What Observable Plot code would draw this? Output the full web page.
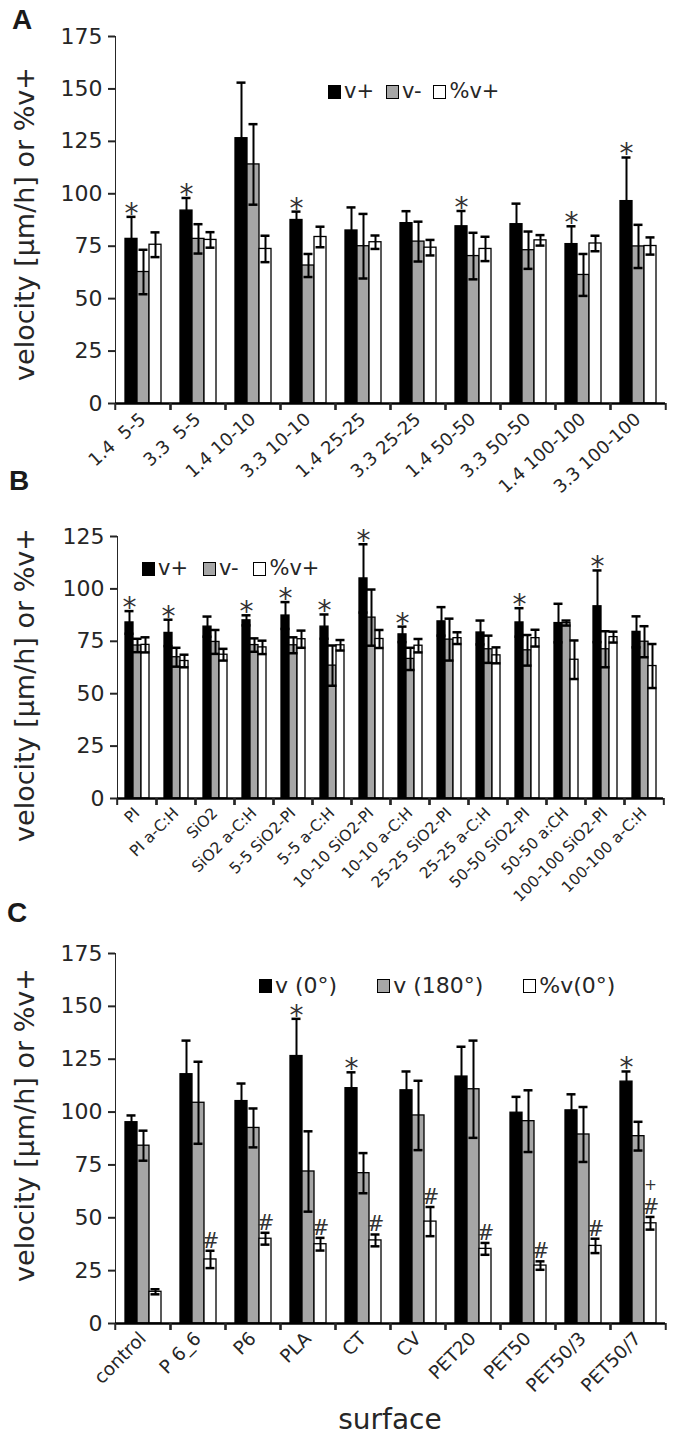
<!DOCTYPE html>
<html><head><meta charset="utf-8">
<script src="https://cdn.jsdelivr.net/npm/d3@7"></script>
<script src="https://cdn.jsdelivr.net/npm/@observablehq/plot@0.6"></script>
<style>
body{margin:0;background:#fff;}
#page{position:relative;width:675px;height:1437px;overflow:hidden;font-family:"DejaVu Sans",sans-serif;color:#262626;}
.panel{position:absolute;left:0;}
.letter{position:absolute;font-family:"Liberation Sans",Arial,sans-serif;font-weight:bold;font-size:28px;color:#1a1a1a;line-height:1;}
.ytitle{position:absolute;left:24px;transform:translate(-50%,-50%) rotate(-90deg);white-space:nowrap;font-size:27px;line-height:1;}
.xtitle{position:absolute;transform:translate(-50%,-50%);white-space:nowrap;font-size:28px;line-height:1;}
.legend{position:absolute;display:flex;align-items:center;line-height:1;white-space:nowrap;}
.sw{display:inline-block;width:13px;height:14px;border:1.5px solid #000;box-sizing:border-box;margin-right:3px;}
g[aria-label="y-axis tick"]{stroke-width:2px;}
</style></head><body><div id="page"></div><script>
// ---------- Panel A ----------
const seriesAB = ["v+", "v-", "%v+"];
const catsA = ["1.4\u00a0 5-5", "3.3\u00a0 5-5", "1.4 10-10", "3.3 10-10", "1.4 25-25", "3.3 25-25", "1.4 50-50", "3.3 50-50", "1.4 100-100", "3.3 100-100"];
const vPlusA     = [78.5, 92, 126.5, 87.5, 82.5, 86, 84.5, 85.5, 76, 96.5];
const vPlusErrA  = [10.5, 6, 26.5, 4, 11, 5.7, 7.3, 9.8, 8.5, 20.8];
const vMinusA    = [62.7, 78.5, 114, 65.8, 75, 77.2, 70.3, 73.1, 61.3, 74.9];
const vMinusErrA = [10.6, 7, 19.2, 5.5, 15.4, 9.5, 11.1, 8.9, 10, 10.3];
const pctA       = [75.7, 78, 73.7, 79.4, 76.9, 74.3, 73.7, 77.8, 76.3, 75.1];
const pctErrA    = [5.9, 3.7, 6.3, 4.9, 3.2, 3.7, 5.8, 2.5, 3.7, 4.1];
const starA      = [1, 1, 0, 1, 0, 0, 1, 0, 1, 1];
const ticksA     = [0, 25, 50, 75, 100, 125, 150, 175];

// ---------- Panel B ----------
const catsB = ["PI", "PI a-C:H", "SiO2", "SiO2 a-C:H", "5-5 SiO2-PI", "5-5 a-C:H", "10-10 SiO2-PI", "10-10 a-C:H", "25-25 SiO2-PI", "25-25 a-C:H", "50-50 SiO2-PI", "50-50 a:CH", "100-100 SiO2-PI", "100-100 a-C:H"];
const vPlusB     = [84, 79, 82, 85, 87.3, 82, 105, 78.3, 84.5, 79.2, 84, 83.7, 91.7, 79.5];
const vPlusErrB  = [5.4, 6.3, 4.8, 2.4, 6.4, 5.8, 16.3, 3.7, 6.8, 5.7, 6.8, 9.2, 17.1, 7.4];
const vMinusB    = [73, 67.4, 74.7, 73.2, 73.1, 63.4, 86.3, 66.6, 75.8, 71.2, 70.7, 83.7, 71.2, 74.8];
const vMinusErrB = [3.2, 4.5, 5.7, 3.2, 3.8, 9.6, 13.4, 5.3, 10, 6.5, 7.3, 1.2, 8.6, 7.4];
const pctB       = [73.3, 65.6, 68.6, 72.1, 76, 73.1, 76.1, 72.9, 76.5, 68.3, 76.5, 66.2, 77, 63.2];
const pctErrB    = [3.6, 3, 2.8, 3.2, 4.1, 2.5, 4.3, 3.2, 2.8, 3.8, 4, 9.2, 2.6, 10.5];
const starB      = [1, 1, 0, 1, 1, 1, 1, 1, 0, 0, 1, 0, 1, 0];
const ticksB     = [0, 25, 50, 75, 100, 125];

// ---------- Panel C ----------
const seriesC = ["v (0°)", "v (180°)", "%v(0°)"];
const catsC = ["control", "P 6_6", "P6", "PLA", "CT", "CV", "PET20", "PET50", "PET50/3", "PET50/7"];
const v0C      = [95.2, 117.9, 105.2, 126.5, 111.3, 110.3, 116.8, 99.7, 100.8, 114.4];
const v0ErrC   = [3.2, 15.9, 8.3, 17.6, 7.5, 8.9, 14.1, 7.5, 7.6, 4.8];
const v180C    = [84.1, 104.4, 92.5, 71.9, 71.1, 98.4, 110.8, 95.7, 89.4, 88.6];
const v180ErrC = [7.1, 19.4, 9.2, 19, 9.5, 16.4, 23, 14.6, 13, 6.8];
const pctC     = [15, 30.3, 40.1, 37.5, 39.3, 48.2, 35.3, 27.4, 36.7, 47.4];
const pctErrC  = [1.2, 4.1, 2.8, 3, 2.8, 6.9, 2.8, 2, 3.4, 3];
const starC    = [0, 0, 0, 1, 1, 0, 0, 0, 0, 1];
const hashC    = [0, 1, 1, 1, 1, 1, 1, 1, 1, 1];
const plusC    = [0, 0, 0, 0, 0, 0, 0, 0, 0, 1];
const ticksC   = [0, 25, 50, 75, 100, 125, 150, 175];

const fills = ["#000000", "#a6a6a6", "#ffffff"];
const yTitle = "velocity [µm/h] or %v+";
const page = document.getElementById("page");

function makePanel(cfg) {
  const {cats, series, vals, errs, stars, hashes, pluses, ticks, top, height, marginTop, marginBottom, xFont, capInset, xPad, xRot} = cfg;
  const rows = [];
  cats.forEach((c, i) => series.forEach((s, j) => rows.push({cat: c, s, v: vals[j][i], e: errs[j][i], i, j})));
  const ML = 112, MR = 8, W = 675;
  const step = (W - ML - MR) / cats.length;
  const pos = {fx: "cat", x: "s"};
  const marks = [
    Plot.barY(rows, {...pos, y: "v", fill: "s", stroke: "#000", strokeWidth: 1.3}),
    Plot.ruleX(rows, {...pos, y1: d => d.v - d.e, y2: d => d.v + d.e, stroke: "#000", strokeWidth: 2}),
    Plot.tickY(rows, {...pos, y: d => d.v + d.e, stroke: "#000", strokeWidth: 2.5, insetLeft: capInset, insetRight: capInset}),
    Plot.tickY(rows, {...pos, y: d => d.v - d.e, stroke: "#000", strokeWidth: 2.5, insetLeft: capInset, insetRight: capInset}),
    Plot.ruleY([0], {stroke: "#000", strokeWidth: 2.5}),
    Plot.axisFx({anchor: "bottom", tickSize: 0, tickRotate: xRot, tickPadding: xPad, fontSize: xFont, label: null, fill: "#262626"}),
    Plot.axisFx({anchor: "bottom", tickSize: 7, tickFormat: () => "", label: null, dx: -step / 2, strokeWidth: 2}),
    Plot.axisFx({anchor: "bottom", tickSize: 7, tickFormat: () => "", label: null, dx: step / 2, strokeWidth: 2}),
    Plot.text(rows.filter(d => d.j === 0 && stars[d.i]), {...pos, y: d => d.v + d.e, text: () => "*", fontSize: 28, dy: -3, fill: "#333"})
  ];
  if (hashes) marks.push(Plot.text(rows.filter(d => d.j === 2 && hashes[d.i]), {
    ...pos, y: d => d.v + d.e, text: () => "#", fontSize: 21, lineAnchor: "bottom", dy: -3, fill: "#333"
  }));
  if (pluses) marks.push(Plot.text(rows.filter(d => d.j === 2 && pluses[d.i]), {
    ...pos, y: d => d.v + d.e, text: () => "+", fontSize: 15, lineAnchor: "bottom", dy: -27, fill: "#333"
  }));
  const svg = Plot.plot({
    width: W, height, marginLeft: ML, marginRight: MR, marginTop, marginBottom,
    style: {fontFamily: "DejaVu Sans, sans-serif", fontSize: "22px", color: "#262626", background: "transparent", overflow: "visible"},
    fx: {domain: cats, paddingInner: 0, paddingOuter: 0, label: null},
    x: {domain: series, paddingInner: 0, paddingOuter: 0.675, axis: null},
    y: {domain: [0, ticks[ticks.length - 1]], ticks, tickSize: 7, tickPadding: 6, line: true, label: null},
    color: {domain: series, range: fills},
    marks
  });
  const wrap = document.createElement("div");
  wrap.className = "panel";
  wrap.style.top = top + "px";
  wrap.appendChild(svg);
  page.appendChild(wrap);
}

function addText(cls, text, css) {
  const d = document.createElement("div");
  d.className = cls;
  d.textContent = text;
  Object.assign(d.style, css);
  page.appendChild(d);
}

function addLegend(series, left, top, gap, fontSize) {
  const lg = document.createElement("div");
  lg.className = "legend";
  Object.assign(lg.style, {left: left + "px", top: top + "px", fontSize: fontSize + "px"});
  series.forEach((s, j) => {
    const sw = document.createElement("span");
    sw.className = "sw";
    sw.style.background = fills[j];
    const t = document.createElement("span");
    t.textContent = s;
    if (j < series.length - 1) t.style.marginRight = gap + "px";
    lg.appendChild(sw); lg.appendChild(t);
  });
  page.appendChild(lg);
}

makePanel({cats: catsA, series: seriesAB, vals: [vPlusA, vMinusA, pctA], errs: [vPlusErrA, vMinusErrA, pctErrA],
  stars: starA, ticks: ticksA, top: 0, height: 462, marginTop: 36, marginBottom: 59, xFont: 18, capInset: 1.5, xPad: 13, xRot: -42});
makePanel({cats: catsB, series: seriesAB, vals: [vPlusB, vMinusB, pctB], errs: [vPlusErrB, vMinusErrB, pctErrB],
  stars: starB, ticks: ticksB, top: 462, height: 440, marginTop: 74, marginBottom: 104, xFont: 15.5, capInset: -0.5, xPad: 12, xRot: -45});
makePanel({cats: catsC, series: seriesC, vals: [v0C, v180C, pctC], errs: [v0ErrC, v180ErrC, pctErrC],
  stars: starC, hashes: hashC, pluses: plusC, ticks: ticksC, top: 902, height: 535, marginTop: 51, marginBottom: 114, xFont: 18.5, capInset: 1.5, xPad: 12, xRot: -45});

addText("letter", "A", {left: "12px", top: "6px"});
addText("letter", "B", {left: "9px", top: "467px"});
addText("letter", "C", {left: "7px", top: "899px"});
addText("ytitle", yTitle, {top: "224px"});
addText("ytitle", yTitle, {top: "685px"});
addText("ytitle", yTitle, {top: "1125px"});
addText("xtitle", "surface", {left: "390px", top: "1420px"});
addLegend(seriesAB, 328, 81, 12, 21);
addLegend(seriesAB, 142, 558, 15, 21);
addLegend(seriesC, 259, 975, 40, 22);
</script></body></html>
